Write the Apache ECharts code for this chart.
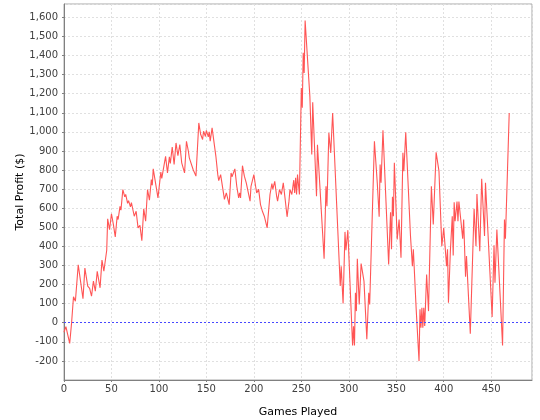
<!DOCTYPE html>
<html>
<head>
<meta charset="utf-8">
<script src="https://cdn.jsdelivr.net/npm/echarts@6/dist/echarts.min.js"></script>
<style>
html,body{margin:0;padding:0;background:#fff;}
#chart{width:540px;height:420px;}
</style>
</head>
<body>
<div id="chart"></div>
<script>
// Games played (x) and total profit (y)
const games = [0,2,6,8,10,12,15,20,22,25,27,29,31,33,35,38,40,42,45,46,48,50,52,54,56,57,59,60,62,64,65,67,68,70,71,74,76,78,80,82,
84,86,88,90,92,93,94,99,102,103,107,109,111,112,114,116,118,120,122,124,127,129,131,132,136,139,142,144,146,147,149,150,152,153,154,156,160,162,163,
165,169,171,174,176,177,180,182,184,185,186,188,190,192,196,197,198,200,202,203,205,207,209,211,214,217,219,220,222,224,225,227,229,231,233,235,237,238,240,
242,243,244,245,246,248,250,251,252,253,254,259,261,262,266,267,274,276,277,279,281,283,291,292,294,296,297,299,304,305,306,307,308,309,311,313,316,319,321,322,
327,330,332,333,334,336,342,344,345,346,347,348,351,353,355,357,358,360,365,367,368,371,374,375,376,377,378,379,380,382,383,384,387,389,392,395,398,400,403,404,405,407,
409,410,411,412,414,415,416,418,420,421,423,424,428,432,434,435,438,440,443,444,451,453,454,456,462,464,465,469];
const profit = [-50,-20,-108,0,136,113,304,126,286,192,180,139,218,165,269,183,328,270,380,545,488,571,515,450,558,541,610,590,698,660,672,625,640,607,630,558,584,497,510,430,
597,532,698,642,750,720,806,654,789,756,872,785,869,835,921,829,942,875,934,838,785,951,899,864,803,768,1047,986,960,1003,976,1008,974,1000,951,1021,872,776,745,
776,646,680,619,785,765,806,715,654,680,654,823,768,733,637,715,706,776,710,680,700,619,584,558,497,672,729,700,741,663,637,698,672,733,646,555,637,698,672,
747,680,760,672,776,672,1230,1126,1414,1309,1584,1186,881,1155,663,933,335,715,610,995,890,1099,192,296,101,476,380,485,-119,-18,-119,157,61,335,96,310,218,-87,157,96,
951,733,555,829,733,1008,305,579,385,660,558,838,436,541,340,890,794,998,454,296,385,70,-201,70,-26,79,-26,79,-17,253,157,61,715,515,893,794,401,497,296,385,105,375,
558,352,631,532,635,532,635,642,440,541,241,349,-58,597,401,675,375,754,454,733,30,406,209,488,-119,541,440,1099];

const xTicks = [0,50,100,150,200,250,300,350,400,450];
const yTicks = [-200,-100,0,100,200,300,400,500,600,700,800,900,1000,1100,1200,1300,1400,1500,1600];

const seriesData = games.map((g, i) => [g, profit[i]]);
const fmt = v => String(v).replace(/\B(?=(\d{3})+(?!\d))/g, ',');

const chart = echarts.init(document.getElementById('chart'), null, {renderer: 'canvas'});
const font = 'DejaVu Sans';
chart.setOption({
  animation: false,
  backgroundColor: '#ffffff',
  grid: {left: 64, top: 4, width: 468, height: 376, outerBoundsMode: 'none', containLabel: false,
    show: true, borderColor: '#a8a8a8', borderWidth: 1, backgroundColor: '#ffffff'},
  xAxis: {
    type: 'value', min: 0, max: 493, interval: 50,
    name: 'Games Played', nameLocation: 'middle', nameGap: 27, nameMoveOverlap: false,
    nameTextStyle: {fontFamily: font, fontSize: 11, color: '#000'},
    axisLine: {show: true, onZero: false, lineStyle: {color: '#808080', width: 1}},
    axisTick: {show: true, length: 2, lineStyle: {color: '#808080'}},
    axisLabel: {fontFamily: font, fontSize: 10, color: '#404040', margin: 4, showMaxLabel: false,
      formatter: v => xTicks.includes(v) ? String(v) : ''},
    splitLine: {show: true, lineStyle: {color: '#e0e0e0', type: [2, 2], width: 1}}
  },
  yAxis: {
    type: 'value', min: -300, max: 1670, interval: 100,
    name: 'Total Profit ($)', nameLocation: 'middle', nameGap: 38, nameRotate: 90, nameMoveOverlap: false,
    nameTextStyle: {fontFamily: font, fontSize: 11, color: '#000'},
    axisLine: {show: true, onZero: false, lineStyle: {color: '#808080', width: 1}},
    axisTick: {show: true, length: 2, lineStyle: {color: '#808080'}},
    axisLabel: {fontFamily: font, fontSize: 10, color: '#404040', margin: 6, showMaxLabel: false, showMinLabel: false,
      formatter: v => yTicks.includes(v) ? fmt(v) : ''},
    splitLine: {show: true, lineStyle: {color: '#e0e0e0', type: [2, 2], width: 1}}
  },
  series: [{
    type: 'line',
    data: seriesData,
    showSymbol: false,
    lineStyle: {color: '#ff5555', width: 1.1},
    itemStyle: {color: '#ff5555'},
    markLine: {
      silent: true, symbol: 'none', label: {show: false},
      lineStyle: {color: '#4848ff', type: [2, 2], width: 1},
      data: [{yAxis: 0}]
    }
  }]
});
</script>
</body>
</html>
